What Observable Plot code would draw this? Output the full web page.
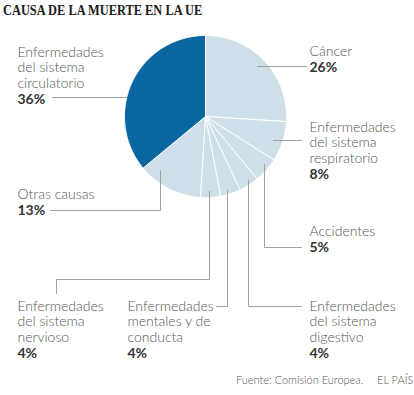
<!DOCTYPE html>
<html><head><meta charset="utf-8">
<script src="https://cdn.jsdelivr.net/npm/d3@7"></script>
<script src="https://cdn.jsdelivr.net/npm/@observablehq/plot@0.6"></script>
<style>
body{margin:0;width:414px;height:395px;overflow:hidden;background:#fff;position:relative;font-family:Lato,sans-serif}
#title{position:absolute;left:3px;top:0;height:22px;line-height:22px;font-weight:bold;font-size:14px;font-family:"Liberation Serif",serif;transform:scaleX(0.885);transform-origin:left center;white-space:nowrap;color:#1a1a1a}
#chart{position:absolute;left:0;top:22px}
.foot{position:absolute;top:373px;line-height:14px;font-size:11px;color:#555;white-space:nowrap;font-weight:300}
</style></head>
<body>
<div id="title">CAUSA DE LA MUERTE EN LA UE</div>
<div id="chart"></div>
<span class="foot" style="left:236px">Fuente: Comisión Europea.</span>
<span class="foot" style="left:377px">EL PAÍS</span>
<script>
// ---- data ----
const categories = ["Cáncer","Enfermedades del sistema respiratorio","Accidentes","Enfermedades del sistema digestivo","Enfermedades mentales y de conducta","Enfermedades del sistema nervioso","Otras causas","Enfermedades del sistema circulatorio"];
const values = [26, 8, 5, 4, 4, 4, 13, 36];
const labelLines = [["Cáncer"],["Enfermedades","del sistema","respiratorio"],["Accidentes"],["Enfermedades","del sistema","digestivo"],["Enfermedades","mentales y de","conducta"],["Enfermedades","del sistema","nervioso"],["Otras causas"],["Enfermedades","del sistema","circulatorio"]];
const percentLabels = values.map(v => v + "%");

// ---- layout (pixels in SVG space) ----
const W = 414, H = 350, cx = 205, cy = 94, R = 81, step = 15.5;
const colors = ["#cde0ea","#cde0ea","#cde0ea","#cde0ea","#cde0ea","#cde0ea","#cde0ea","#0a66a0"];
const labelPos = [[309,29],[309,105],[309,209],[309,284],[127,284],[17,284],[17,172],[17,30]];
const leaderPaths = [
  [[257,44],[306,44]],
  [[273,118],[301,118]],
  [[264,142],[264,225],[301,225]],
  [[248,158],[248,284],[301,284]],
  [[216,284],[227,284],[227,168]],
  [[56,271],[56,257],[209,257],[209,169]],
  [[50,188],[160,188],[160,148]],
  [[52,75],[126,75]]
];

// pie geometry from values
const arcs = d3.pie().sort(null).value(d => d)(values);
const piePts = [];
arcs.forEach((a, i) => {
  const cat = categories[i];
  piePts.push({cat, x: cx, y: cy});
  const n = Math.max(2, Math.ceil((a.endAngle - a.startAngle) / 0.01));
  for (let k = 0; k <= n; k++) {
    const t = a.startAngle + (a.endAngle - a.startAngle) * k / n;
    piePts.push({cat, x: cx + R * Math.sin(t), y: cy - R * Math.cos(t)});
  }
  piePts.push({cat, x: cx, y: cy});
});

const leaderPts = leaderPaths.flatMap((p, i) => p.map(([x, y]) => ({id: i, x, y})));
const textRows = labelLines.flatMap((lines, i) => lines.map((t, j) => ({t, x: labelPos[i][0], y: labelPos[i][1] + j * step})));
const pctRows = percentLabels.map((t, i) => ({t, x: labelPos[i][0], y: labelPos[i][1] + labelLines[i].length * step + 0.5}));

const chart = Plot.plot({
  width: W, height: H, margin: 0,
  x: {domain: [0, W], range: [0, W], axis: null},
  y: {domain: [0, H], range: [0, H], axis: null},
  color: {domain: categories, range: colors},
  style: {fontFamily: "Lato, sans-serif", background: "white"},
  marks: [
    Plot.line(piePts, {x: "x", y: "y", z: "cat", fill: "cat", stroke: "white", strokeWidth: 1, curve: "linear"}),
    Plot.line(leaderPts, {x: "x", y: "y", z: "id", stroke: "#a0a0a0", strokeWidth: 1, curve: "linear"}),
    Plot.text(textRows, {x: "x", y: "y", text: "t", textAnchor: "start", lineAnchor: "middle", fontSize: 14, fontWeight: 300, fill: "#555"}),
    Plot.text(pctRows, {x: "x", y: "y", text: "t", textAnchor: "start", lineAnchor: "middle", fontSize: 14, fontWeight: "bold", fill: "#333"})
  ]
});
document.getElementById("chart").appendChild(chart);
</script>
</body></html>
